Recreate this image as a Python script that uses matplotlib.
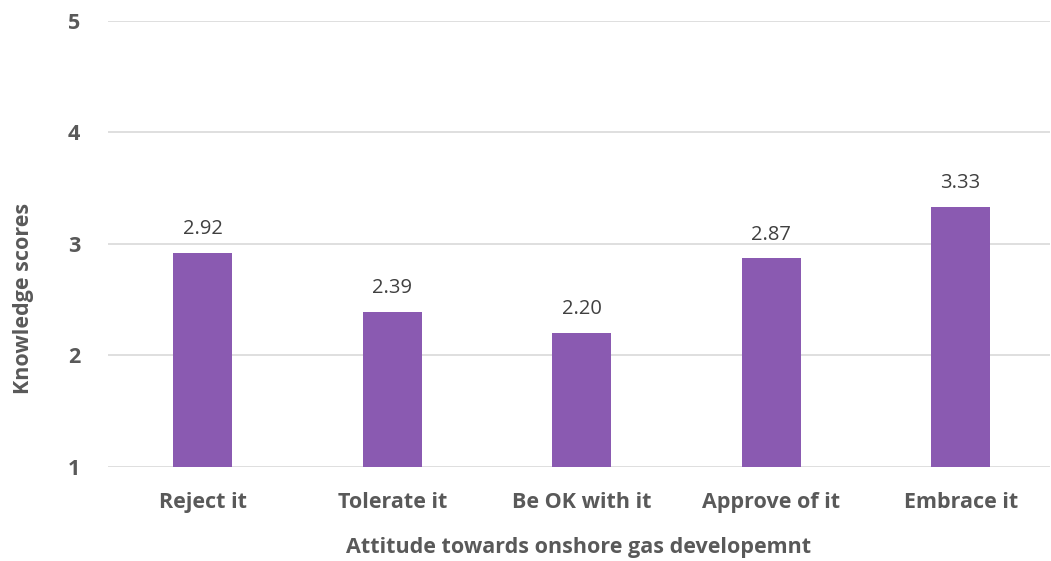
import matplotlib.pyplot as plt

categories = ["Reject it", "Tolerate it", "Be OK with it", "Approve of it", "Embrace it"]
scores = [2.92, 2.39, 2.20, 2.87, 3.33]
y_ticks = [1, 2, 3, 4, 5]

bar_color = "#8A5AB1"
text_color = "#595959"
grid_color = "#D9D9D9"

plt.rcParams["font.family"] = ["Open Sans", "DejaVu Sans"]

fig = plt.figure(figsize=(10.51, 5.61), dpi=100)
ax = fig.add_axes([0.1028, 0.1676, 0.896, 0.795])

x = list(range(len(categories)))
base = y_ticks[0]
bars = ax.bar(x, [s - base for s in scores], bottom=base, width=0.313,
              color=bar_color, zorder=3)

for xi, s in zip(x, scores):
    ax.annotate(f"{s:.2f}", (xi, s), xytext=(0, 10), textcoords="offset points",
                ha="center", va="bottom", fontsize=14.5, color="#404040")

ax.set_ylim(1, 5)
ax.set_xlim(-0.5, 4.47)
ax.set_yticks(y_ticks)
ax.set_xticks(x)
ax.set_xticklabels(categories)
ax.tick_params(length=0, labelsize=15.5, colors=text_color, pad=18)
ax.tick_params(axis="y", pad=20)
for lbl in ax.get_xticklabels() + ax.get_yticklabels():
    lbl.set_fontweight("bold")

ax.yaxis.grid(True, color=grid_color, linewidth=1.2, zorder=0)
for sp in ax.spines.values():
    sp.set_visible(False)

ax.set_xlabel("Attitude towards onshore gas developemnt", fontsize=15.5,
              fontweight="bold", color=text_color, labelpad=17)
ax.set_ylabel("Knowledge scores", fontsize=15.5, fontweight="bold",
              color=text_color)
# y title sits a bit below the middle of the plot area
ax.yaxis.set_label_coords(-0.079, 0.379)

fig.savefig("out.png", dpi=100)
